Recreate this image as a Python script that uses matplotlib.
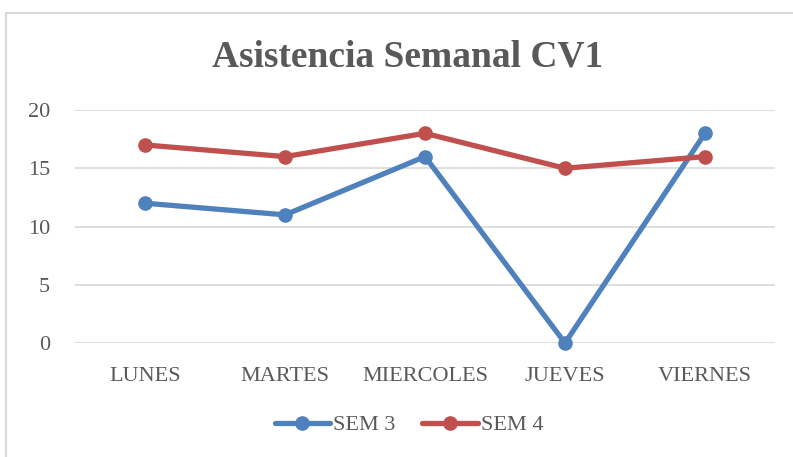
import matplotlib.pyplot as plt
from matplotlib.patches import Rectangle

dias = ['LUNES', 'MARTES', 'MIERCOLES', 'JUEVES', 'VIERNES']
sem3 = [12, 11, 16, 0, 18]
sem4 = [17, 16, 18, 15, 16]

texto = '#595959'
plt.rcParams['font.family'] = ['Liberation Serif', 'DejaVu Serif']

fig = plt.figure(figsize=(7.93, 4.57), dpi=100)
ax = fig.add_axes([75 / 793, 1 - 343 / 457, 700 / 793, 233 / 457])

# marco del grafico
fig.patches.append(Rectangle((6 / 793, -0.1), 1.0, 1 - 13 / 457 + 0.1,
                             transform=fig.transFigure, fill=False,
                             edgecolor='#d9d9d9', linewidth=1.5))

x = list(range(len(dias)))
ax.plot(x, sem3, color='#4F81BD', linewidth=3.8, marker='o', markersize=9.5,
        label='SEM 3', solid_capstyle='round', zorder=3, clip_on=False)
ax.plot(x, sem4, color='#C0504D', linewidth=3.8, marker='o', markersize=9.5,
        label='SEM 4', solid_capstyle='round', zorder=3, clip_on=False)

ax.set_xlim(-0.5, 4.5)
ax.set_ylim(0, 20)
ax.set_yticks([0, 5, 10, 15, 20])
ax.set_xticks(x)
ax.set_xticklabels(dias)
ax.grid(axis='y', color='#d9d9d9', linewidth=1.2)
ax.set_axisbelow(True)
for s in ax.spines.values():
    s.set_visible(False)
ax.tick_params(length=0, labelsize=16, colors=texto)
ax.tick_params(axis='x', pad=17)
ax.tick_params(axis='y', pad=18)

fig.suptitle('Asistencia Semanal CV1', x=0.514, y=1 - 57 / 457, va='center',
             fontsize=27, fontweight='bold', color=texto)

fig.legend(loc='center', bbox_to_anchor=(0.516, 1 - 425 / 457), ncol=2,
           frameon=False, fontsize=16, labelcolor=texto, handlelength=2.5,
           columnspacing=1.2, handletextpad=0.15)

fig.savefig('out.png', dpi=100)
